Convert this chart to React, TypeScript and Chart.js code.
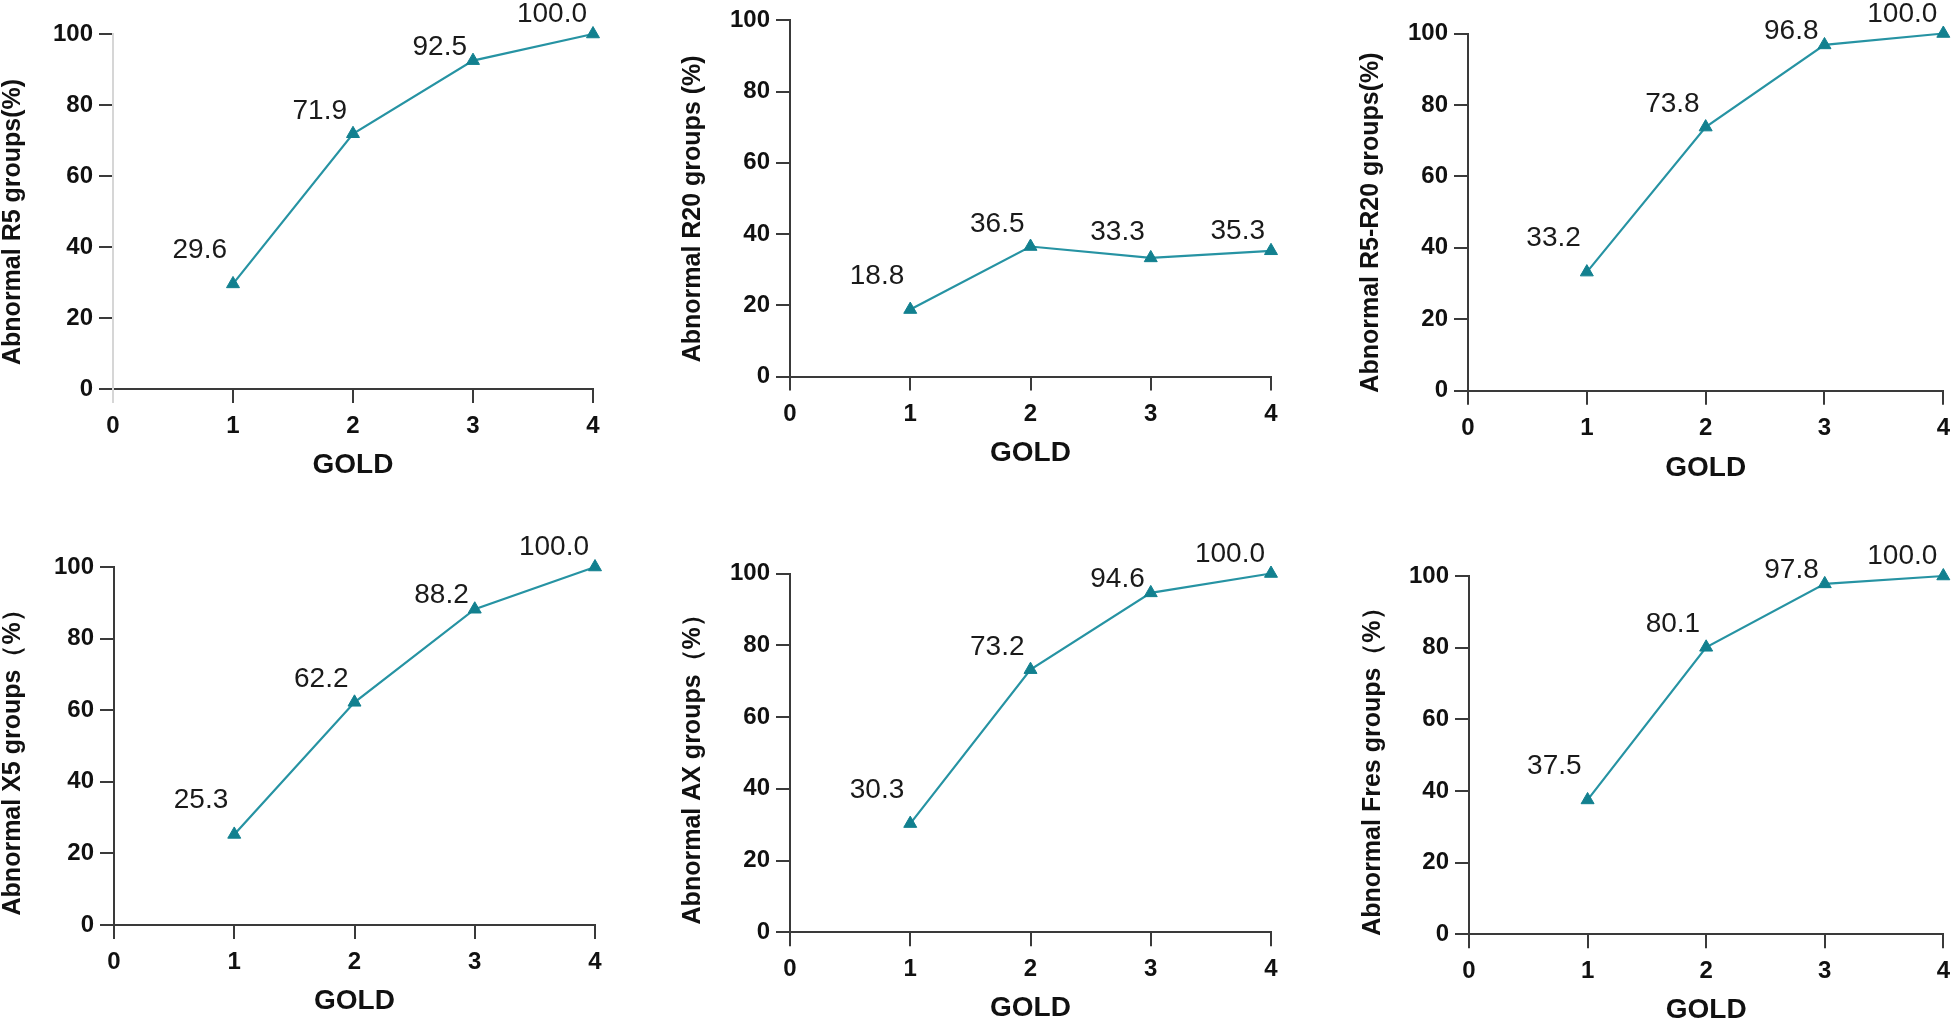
import React, { useEffect, useRef } from "react";
import { Chart, registerables } from "chart.js";

Chart.register(...registerables);

// ---------------- data ----------------
const GOLD_STAGES = [1, 2, 3, 4];
const R5_ABNORMAL = [29.6, 71.9, 92.5, 100.0];
const R20_ABNORMAL = [18.8, 36.5, 33.3, 35.3];
const R5_R20_ABNORMAL = [33.2, 73.8, 96.8, 100.0];
const X5_ABNORMAL = [25.3, 62.2, 88.2, 100.0];
const AX_ABNORMAL = [30.3, 73.2, 94.6, 100.0];
const FRES_ABNORMAL = [37.5, 80.1, 97.8, 100.0];

const Y_TITLES = [
  "Abnormal R5 groups(%)",
  "Abnormal R20 groups (%)",
  "Abnormal R5-R20 groups(%)",
  "Abnormal X5 groups（%）",
  "Abnormal AX groups（%）",
  "Abnormal Fres groups（%）",
];
const X_TITLE = "GOLD";
const X_MIN = 0;
const X_MAX = 4;
const Y_MIN = 0;
const Y_MAX = 100;
const Y_STEP = 20;

const SERIES = [R5_ABNORMAL, R20_ABNORMAL, R5_R20_ABNORMAL, X5_ABNORMAL, AX_ABNORMAL, FRES_ABNORMAL];

// ---------------- layout / style ----------------
const FONT = "'Liberation Sans', Arial, Helvetica, sans-serif";
const LINE_COLOR = "#2693a3";
const MARK_COLOR = "#12808f";
const AXIS_COLOR = "#3a3a3a";
const TEXT_COLOR = "#111111";

const TICK_FONT = 24;
const Y_TITLE_FONT = 25;
const X_TITLE_FONT = 28;
const VALUE_FONT = 28;
const LH = 1.2;
const TICK_LEN = 14;
// vertical gap (px) between a value label's baseline and its marker, per point position
const LABEL_GAPS = [26, 15, 6, 12];
const LABEL_GAP_AFTER_DROP = 18;
const LABEL_DX = -6;
// the rotated y titles sit a little below the centre of the plot in the original
const Y_TITLE_TAIL = "\u00a0\u00a0\u00a0";

// plot-area frames in page pixels
const FRAMES = [
  { left: 113, right: 593, top: 34, bottom: 389, titleX: 13, goldY: 465, yAxisColor: "#d6d6d6" },
  { left: 790, right: 1271, top: 19, bottom: 376.5, titleX: 693, goldY: 453, yAxisColor: AXIS_COLOR },
  { left: 1468, right: 1949, top: 33.5, bottom: 390.7, titleX: 1371, goldY: 468, yAxisColor: AXIS_COLOR },
  { left: 114, right: 595, top: 567, bottom: 925, titleX: 13, goldY: 1001.5, yAxisColor: AXIS_COLOR },
  { left: 790, right: 1271, top: 573.5, bottom: 932.3, titleX: 693, goldY: 1008, yAxisColor: AXIS_COLOR },
  { left: 1469, right: 1951, top: 576, bottom: 934.3, titleX: 1373, goldY: 1010, yAxisColor: AXIS_COLOR },
];

const valueLabels = {
  id: "valueLabels",
  afterDatasetsDraw(chart: any) {
    const ctx = chart.ctx;
    const meta = chart.getDatasetMeta(0);
    const data = chart.data.datasets[0].data as { x: number; y: number }[];
    ctx.save();
    ctx.font = `${VALUE_FONT}px ${FONT}`;
    ctx.fillStyle = "#1a1a1a";
    ctx.textAlign = "right";
    ctx.textBaseline = "alphabetic";
    meta.data.forEach((pt: any, i: number) => {
      const dropped = i > 0 && data[i - 1].y > data[i].y;
      const gap = dropped ? LABEL_GAP_AFTER_DROP : LABEL_GAPS[i] ?? 12;
      ctx.fillText(data[i].y.toFixed(1), pt.x + LABEL_DX, pt.y - gap);
    });
    ctx.restore();
  },
};

function Panel({ index }: { index: number }) {
  const ref = useRef<HTMLCanvasElement | null>(null);
  const f = FRAMES[index];
  const yTitleLH = Y_TITLE_FONT * LH;
  const xTitleLH = X_TITLE_FONT * LH;
  const cl = Math.floor(f.titleX - yTitleLH / 2);
  const yW = f.left - cl;
  const ct = Math.max(0, Math.floor(f.top - 40));
  const padTop = f.top - ct;
  const cr = Math.min(1959, Math.ceil(f.right + 18));
  const padRight = cr - f.right;
  const xH = f.goldY + xTitleLH / 2 - f.bottom;
  const cb = Math.ceil(f.bottom + xH + 2);
  const padBottom = cb - (f.bottom + xH);
  const width = cr - cl;
  const height = cb - ct;

  useEffect(() => {
    if (!ref.current) return;
    const values = SERIES[index];
    const chart = new Chart(ref.current, {
      type: "line",
      data: {
        datasets: [
          {
            data: GOLD_STAGES.map((g, i) => ({ x: g, y: values[i] })),
            borderColor: LINE_COLOR,
            borderWidth: 2.2,
            pointStyle: "triangle",
            pointRadius: 7.5,
            pointBackgroundColor: MARK_COLOR,
            pointBorderColor: MARK_COLOR,
            pointBorderWidth: 1,
            tension: 0,
            clip: false as any,
          },
        ],
      },
      options: {
        animation: false,
        responsive: false,
        maintainAspectRatio: false,
        events: [],
        layout: { padding: { left: 0, top: padTop, right: padRight, bottom: padBottom } },
        plugins: { legend: { display: false }, tooltip: { enabled: false }, title: { display: false } },
        scales: {
          x: {
            type: "linear",
            min: X_MIN,
            max: X_MAX,
            ticks: {
              stepSize: 1,
              color: TEXT_COLOR,
              font: { family: FONT, size: TICK_FONT, weight: "bold" },
              padding: 9,
              maxRotation: 0,
            },
            grid: {
              display: true,
              drawOnChartArea: false,
              drawTicks: true,
              tickLength: TICK_LEN,
              lineWidth: 2,
              color: (c: any) => (c.tick && c.tick.value === 0 ? f.yAxisColor : AXIS_COLOR),
            },
            border: { display: true, color: AXIS_COLOR, width: 2 },
            title: {
              display: true,
              text: X_TITLE,
              color: TEXT_COLOR,
              font: { family: FONT, size: X_TITLE_FONT, weight: "bold" },
              padding: 0,
            },
            afterFit: (s: any) => {
              s.height = xH;
            },
          },
          y: {
            type: "linear",
            min: Y_MIN,
            max: Y_MAX,
            ticks: {
              stepSize: Y_STEP,
              color: TEXT_COLOR,
              font: { family: FONT, size: TICK_FONT, weight: "bold" },
              padding: 6,
            },
            grid: {
              display: true,
              drawOnChartArea: false,
              drawTicks: true,
              tickLength: TICK_LEN,
              lineWidth: 2,
              color: AXIS_COLOR,
            },
            border: { display: true, color: f.yAxisColor, width: 2 },
            title: {
              display: true,
              text: Y_TITLES[index] + Y_TITLE_TAIL,
              color: TEXT_COLOR,
              font: { family: FONT, size: Y_TITLE_FONT, weight: "bold" },
              padding: 0,
            },
            afterFit: (s: any) => {
              s.width = yW;
            },
          },
        },
      } as any,
      plugins: [valueLabels],
    });
    return () => chart.destroy();
  }, [index]);

  return (
    <canvas
      ref={ref}
      width={width}
      height={height}
      style={{ position: "absolute", left: cl, top: ct, width, height }}
    />
  );
}

export default function App() {
  return (
    <div
      style={{
        position: "fixed",
        left: 0,
        top: 0,
        width: 1959,
        height: 1022,
        overflow: "hidden",
        background: "#ffffff",
      }}
    >
      {FRAMES.map((_, i) => (
        <Panel key={i} index={i} />
      ))}
    </div>
  );
}
